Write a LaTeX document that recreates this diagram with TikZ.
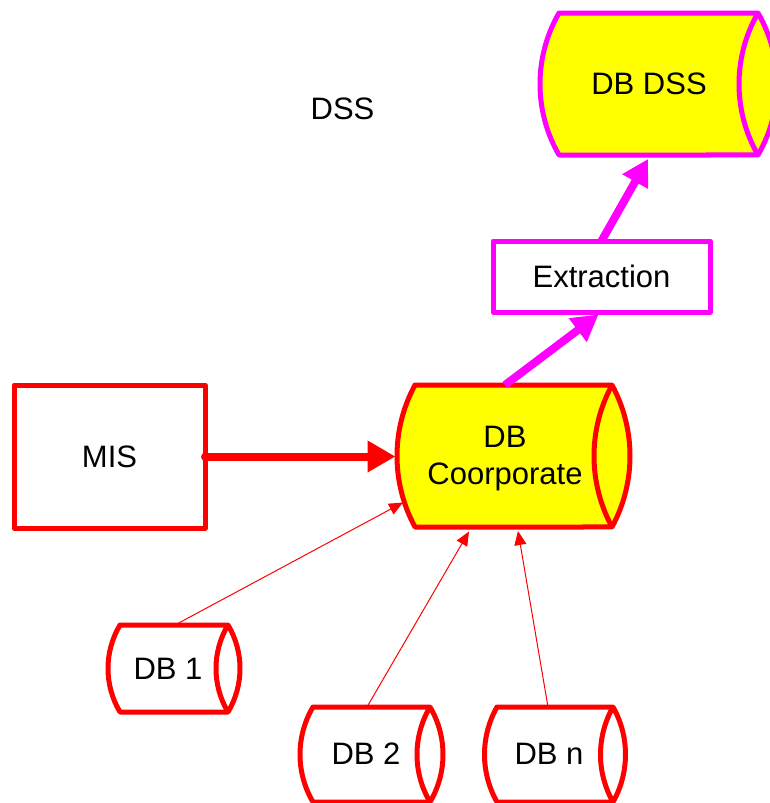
\documentclass[tikz,border=0pt]{standalone}
\usepackage{fontspec}
\setmainfont{Liberation Sans}
\usetikzlibrary{arrows.meta,calc}
\definecolor{dbred}{RGB}{255,0,0}
\definecolor{dbmag}{RGB}{255,0,255}
\definecolor{dbyel}{RGB}{255,255,0}
\tikzset{
  lbl/.style={font=\fontsize{31}{37}\selectfont, align=center, inner sep=0pt, text=black},
  body/.style={draw=none, inner sep=0pt, outer sep=0pt},
  redstroke/.style={draw=dbred, line width=5pt, line join=round},
  magstroke/.style={draw=dbmag, line width=5pt, line join=round},
  boxred/.style={body, redstroke, fill=white},
  boxmag/.style={body, magstroke, fill=white},
  thickred/.style={draw=dbred, line width=8pt, line cap=round, -{Triangle[length=28pt,width=30pt]}},
  thickmag/.style={draw=dbmag, line width=8pt, -{Triangle[length=26pt,width=28pt]}},
  thinred/.style={draw=dbred, line width=1pt, -{Triangle[length=14pt,width=12pt]}},
}
% #1 body node, #2 bulge of the end arcs, #3 half height, #4 style
\newcommand\cylpath[4]{%
  \pgfmathsetmacro\cylR{(#3*#3+#2*#2)/(2*#2)}%
  \pgfmathsetmacro\cylT{asin(#3/\cylR)}%
  \path[#4] (#1.north west) -- (#1.north east)
    arc[start angle=\cylT, end angle=-\cylT, radius=\cylR pt]
    -- (#1.south west)
    arc[start angle=180+\cylT, end angle=180-\cylT, radius=\cylR pt] -- cycle;
  \path[#4, fill=none] (#1.north east)
    arc[start angle=180-\cylT, end angle=180+\cylT, radius=\cylR pt];
}
\begin{document}
\begin{tikzpicture}[x=1pt, y=-1pt]
\useasboundingbox (0,0) rectangle (769,803);

% cylinder bodies
\node[body, minimum width=199pt, minimum height=142pt] (dbdss) at (658.5,84) {};
\node[body, minimum width=197pt, minimum height=142pt] (dbc) at (513.5,456) {};
\node[body, minimum width=108pt, minimum height=87pt] (db1) at (174,668.5) {};
\node[body, minimum width=117pt, minimum height=95pt] (db2) at (371.5,754.5) {};
\node[body, minimum width=116pt, minimum height=95pt] (dbn) at (555,754.5) {};

\cylpath{dbdss}{19}{71}{magstroke, fill=dbyel}
\cylpath{dbc}{18}{71}{redstroke, fill=dbyel}
\cylpath{db1}{12}{43.5}{redstroke, fill=white}
\cylpath{db2}{13}{47.5}{redstroke, fill=white}
\cylpath{dbn}{12.5}{47.5}{redstroke, fill=white}

% texts of cylinders
\node[lbl] (dbdss-t) at (649,84) {DB DSS};
\node[lbl] (dbc-t) at (505,459) {DB\\Coorporate};
\node[lbl] (db1-t) at (168,668.5) {DB 1};
\node[lbl] (db2-t) at (366,754) {DB 2};
\node[lbl] (dbn-t) at (549,754) {DB n};

% boxes
\node[boxred, minimum width=191pt, minimum height=143pt, font=\fontsize{31}{37}\selectfont] (mis) at (109.5,456.5) {MIS};
\node[boxmag, minimum width=217pt, minimum height=71pt, font=\fontsize{31}{37}\selectfont] (ext) at (601.5,276.5) {Extraction};

% free label
\node[lbl] (dss) at (342.5,109) {DSS};

% connectors
\draw[thickred] (mis.east) -- ($(mis.east -| dbc.west)+(-19.5,0)$);
\draw[thickmag] ($(dbc.north)+(-8.5,0)$) -- ($(ext.south)+(-3,2.5)$);
\draw[thickmag] (ext.north) -- ($(dbdss.south)+(-10.5,4)$);
\draw[thinred] ($(db1.north)+(1,0)$) -- ($(dbc.south west)+(-12,-24.5)$);
\draw[thinred] ($(db2.north)+(-4.5,0)$) -- ($(dbc.south)+(-44.5,4.5)$);
\draw[thinred] ($(dbn.north)+(-7,0)$) -- ($(dbc.south)+(4.5,4)$);
\end{tikzpicture}
\end{document}
